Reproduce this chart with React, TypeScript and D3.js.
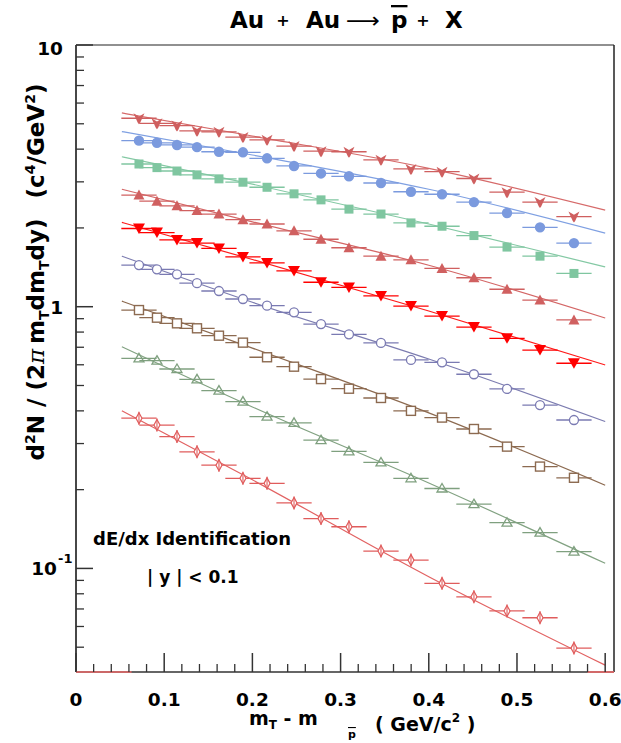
import React from 'react';
import * as d3 from 'd3';

const W = 621;
const H = 743;

// x positions (mT - m, GeV/c^2) of the measured points
const xs = [0.0714, 0.0918, 0.1145, 0.1372, 0.1621, 0.1893, 0.2166, 0.2472, 0.2778, 0.3095, 0.3458, 0.3798, 0.415, 0.4512, 0.4887, 0.5261, 0.5646];

// spectra, top to bottom
const s1 = [5.25, 5.02, 4.92, 4.7, 4.66, 4.45, 4.34, 4.11, 3.93, 3.91, 3.64, 3.36, 3.28, 3.09, 2.74, 2.51, 2.21];
const s2 = [4.31, 4.23, 4.15, 4.07, 3.91, 3.89, 3.69, 3.45, 3.23, 3.15, 2.97, 2.75, 2.69, 2.51, 2.28, 2.01, 1.75];
const s3 = [3.51, 3.4, 3.3, 3.19, 3.08, 2.99, 2.86, 2.7, 2.56, 2.36, 2.26, 2.09, 2.03, 1.87, 1.69, 1.56, 1.34];
const s4 = [2.67, 2.53, 2.43, 2.33, 2.26, 2.15, 2.07, 1.95, 1.81, 1.68, 1.56, 1.51, 1.4, 1.29, 1.166, 1.06, 0.89];
const s5 = [1.99, 1.92, 1.8, 1.75, 1.67, 1.55, 1.47, 1.37, 1.24, 1.185, 1.1, 1.006, 0.921, 0.836, 0.757, 0.683, 0.608];
const s6 = [1.443, 1.39, 1.33, 1.23, 1.148, 1.07, 1.009, 0.952, 0.858, 0.784, 0.727, 0.626, 0.613, 0.552, 0.485, 0.421, 0.369];
const s7 = [0.971, 0.908, 0.864, 0.827, 0.775, 0.729, 0.641, 0.59, 0.529, 0.486, 0.448, 0.4, 0.377, 0.341, 0.292, 0.245, 0.222];
const s8 = [0.635, 0.622, 0.578, 0.528, 0.478, 0.434, 0.38, 0.36, 0.309, 0.28, 0.254, 0.221, 0.202, 0.176, 0.1495, 0.137, 0.116];
const s9 = [0.375, 0.353, 0.319, 0.279, 0.248, 0.221, 0.2114, 0.178, 0.155, 0.1443, 0.1165, 0.1076, 0.0877, 0.0779, 0.0688, 0.0648, 0.0496];

// fitted curves, sampled at fitX
const fitX = [0.052, 0.2, 0.4, 0.6];
const f1 = [5.5, 4.49, 3.38, 2.34];
const f2 = [4.67, 3.8, 2.81, 1.91];
const f3 = [3.74, 2.94, 2.07, 1.42];
const f4 = [2.81, 2.11, 1.44, 0.905];
const f5 = [2.1, 1.515, 0.963, 0.599];
const f6 = [1.56, 1.04, 0.631, 0.364];
const f7 = [1.05, 0.695, 0.393, 0.208];
const f8 = [0.703, 0.414, 0.212, 0.1046];
const f9 = [0.4, 0.218, 0.093, 0.0427];

const xErr = 0.02;

const xTickVals = [0, 0.1, 0.2, 0.3, 0.4, 0.5, 0.6];
const xTickLabels = ['0', '0.1', '0.2', '0.3', '0.4', '0.5', '0.6'];
const yMajor = [0.1, 1, 10];
const redAxisSegs = [[0, 0.063], [0.58, 0.61]];

const series = [
  { vals: s1, fit: f1, color: '#cf5f5f', line: '#d66a6a', shape: 'notch' },
  { vals: s2, fit: f2, color: '#7b9ade', line: '#7fa0e2', shape: 'circleF' },
  { vals: s3, fit: f3, color: '#7fc6a0', line: '#84c9a4', shape: 'squareF' },
  { vals: s4, fit: f4, color: '#d06060', line: '#d46666', shape: 'triUpF' },
  { vals: s5, fit: f5, color: '#ff0000', line: '#ff1a1a', shape: 'triDownF' },
  { vals: s6, fit: f6, color: '#7a7ab2', line: '#7c7cb0', shape: 'circleO' },
  { vals: s7, fit: f7, color: '#8c6a50', line: '#8c6a50', shape: 'squareO' },
  { vals: s8, fit: f8, color: '#7fa07f', line: '#82a282', shape: 'triUpO' },
  { vals: s9, fit: f9, color: '#e05c5c', line: '#e26262', shape: 'diamondO' },
];

function Marker({ shape, color }: { shape: string; color: string }) {
  switch (shape) {
    case 'notch':
      return <path d="M-5.5,-5 L0,-1.8 L5.5,-5 L1.2,4.5 L0,6 L-1.2,4.5 Z" fill={color} />;
    case 'circleF':
      return <circle r={5.2} fill={color} />;
    case 'squareF':
      return <rect x={-4.5} y={-4.5} width={9} height={9} fill={color} />;
    case 'triUpF':
      return <path d="M0,-5.5 L5.5,4.5 L-5.5,4.5 Z" fill={color} />;
    case 'triDownF':
      return <path d="M-6,-5 L6,-5 L0,5.5 Z" fill={color} />;
    case 'circleO':
      return <circle r={4.5} fill="#fff" stroke={color} strokeWidth={1.3} />;
    case 'squareO':
      return <rect x={-4.5} y={-4.5} width={9} height={9} fill="#fff" stroke={color} strokeWidth={1.4} />;
    case 'triUpO':
      return <path d="M0,-5 L5,3.5 L-5,3.5 Z" fill="none" stroke={color} strokeWidth={1.3} />;
    case 'diamondO':
      return (
        <g>
          <path d="M0,-5.5 L3,0 L0,5.5 L-3,0 Z" fill="#fff" stroke={color} strokeWidth={1.2} />
          <line x1={0} x2={0} y1={-6.5} y2={6.5} stroke={color} strokeWidth={1.1} />
        </g>
      );
    default:
      return null;
  }
}

export default function App() {
  const x = d3.scaleLinear().domain([0, 0.61]).range([76, 614]);
  const y = d3.scaleLog().domain([0.0402, 10]).range([672, 45]);
  const [x0, x1] = x.range();
  const [yb, yt] = y.range();

  const xMinor = d3.range(0, 61, 2).map((v) => v / 100).filter((v) => Math.round(v * 100) % 10 !== 0);
  const yMinor: number[] = [];
  [0.01, 0.1, 1].forEach((dec) => {
    for (let k = 2; k <= 9; k++) {
      const v = dec * k;
      if (v >= 0.0402 && v <= 10) yMinor.push(v);
    }
  });

  const fitLine = d3
    .line<number>()
    .x((_, i) => x(fitX[i]))
    .y((d) => y(d))
    .curve(d3.curveMonotoneX);

  const font = "'DejaVu Sans', Verdana, sans-serif";

  return (
    <svg width={W} height={H} style={{ position: 'absolute', left: 0, top: 0, background: '#fff' }} fontFamily={font}>
      <rect width={W} height={H} fill="#fff" />
      {/* title */}
      <g fontWeight="bold" fill="#000">
        <text x={230} y={28} fontSize={23}>Au</text>
        <text x={283} y={26} fontSize={16} textAnchor="middle">+</text>
        <text x={306} y={28} fontSize={23}>Au</text>
        <text x={346} y={28} fontSize={22} fontWeight="normal" textLength={34} lengthAdjust="spacingAndGlyphs">⟶</text>
        <text x={391} y={28} fontSize={23} textDecoration="overline">p</text>
        <text x={423} y={26} fontSize={16} textAnchor="middle">+</text>
        <text x={445} y={28} fontSize={23}>X</text>
      </g>

      {/* fit curves */}
      <g fill="none">
        {series.map((s, i) => (
          <path key={'f' + i} d={fitLine(s.fit) || ''} stroke={s.line} strokeWidth={1.2} />
        ))}
      </g>

      {/* error bars */}
      <g>
        {series.map((s, i) =>
          s.vals.map((v, j) => (
            <line
              key={'e' + i + '-' + j}
              x1={x(xs[j] - xErr)}
              x2={x(xs[j] + xErr)}
              y1={y(v)}
              y2={y(v)}
              stroke={s.color}
              strokeWidth={1.3}
            />
          ))
        )}
      </g>

      {/* markers */}
      <g>
        {series.map((s, i) =>
          s.vals.map((v, j) => (
            <g key={'m' + i + '-' + j} transform={`translate(${x(xs[j])},${y(v)})`}>
              <Marker shape={s.shape} color={s.color} />
            </g>
          ))
        )}
      </g>

      {/* frame */}
      <line x1={x0} x2={x1} y1={yt} y2={yt} stroke="#222" strokeWidth={1.2} />
      <line x1={x1} x2={x1} y1={yt} y2={yb} stroke="#222" strokeWidth={1.5} />
      <line x1={x0} x2={x1} y1={yb} y2={yb} stroke="#333" strokeWidth={1.6} />
      <line x1={x0} x2={x0} y1={yt} y2={yb} stroke="#333" strokeWidth={1.8} />
      {redAxisSegs.map((seg, i) => (
        <line key={'r' + i} x1={x(seg[0])} x2={x(seg[1])} y1={yb} y2={yb} stroke="#ee6a6a" strokeWidth={1.6} />
      ))}

      {/* x ticks */}
      {xTickVals.map((v) => (
        <line key={'xt' + v} x1={x(v)} x2={x(v)} y1={yb} y2={yb - 19} stroke="#333" strokeWidth={1.5} />
      ))}
      {xMinor.map((v) => (
        <line key={'xm' + v} x1={x(v)} x2={x(v)} y1={yb} y2={yb - 8} stroke="#333" strokeWidth={1.3} />
      ))}
      {xTickVals.map((v, i) => (
        <text key={'xl' + v} x={x(v)} y={706} textAnchor="middle" fontSize={18.5} fontWeight="bold" fill="#000">
          {xTickLabels[i]}
        </text>
      ))}

      {/* y ticks */}
      {yMajor.map((v) => (
        <line key={'yt' + v} x1={x0} x2={x0 + 17} y1={y(v)} y2={y(v)} stroke="#333" strokeWidth={1.5} />
      ))}
      {yMinor.map((v) => (
        <line key={'ym' + v} x1={x0} x2={x0 + 8} y1={y(v)} y2={y(v)} stroke="#333" strokeWidth={1.3} />
      ))}
      <text x={63} y={y(10) + 10} textAnchor="end" fontSize={18.5} fontWeight="bold">10</text>
      <text x={63} y={y(1) + 7} textAnchor="end" fontSize={18.5} fontWeight="bold">1</text>
      <text x={57} y={y(0.1) + 7} textAnchor="end" fontSize={18.5} fontWeight="bold">10</text>
      <text x={58} y={y(0.1) - 5} textAnchor="start" fontSize={13} fontWeight="bold">-1</text>

      {/* y label */}
      <text transform="translate(44,272) rotate(-90)" textAnchor="middle" fontSize={23} fontWeight="bold" fill="#000">
        <tspan>d</tspan>
        <tspan fontSize={14} dy={-9}>2</tspan>
        <tspan dy={9}>N / (2</tspan>
        <tspan fontFamily="'DejaVu Serif'" fontWeight="normal" fontStyle="italic">π</tspan>
        <tspan dx={5}>m</tspan>
        <tspan fontSize={14} dy={5}>T</tspan>
        <tspan dy={-5}>dm</tspan>
        <tspan fontSize={14} dy={5}>T</tspan>
        <tspan dy={-5}>dy)</tspan>
        <tspan dx={20}>(c</tspan>
        <tspan fontSize={14} dy={-9}>4</tspan>
        <tspan dy={9}>/GeV</tspan>
        <tspan fontSize={14} dy={-9}>2</tspan>
        <tspan dy={9}>)</tspan>
      </text>

      {/* x label */}
      <text x={249} y={725} fontSize={19} fontWeight="bold" fill="#000">
        <tspan>m</tspan>
        <tspan fontSize={12} dy={4}>T</tspan>
        <tspan dy={-4}> - m</tspan>
      </text>
      <text x={348} y={738} fontSize={11} fontWeight="bold" fill="#000" textDecoration="overline">p</text>
      <text x={375} y={731} fontSize={19} fontWeight="bold" fill="#000">
        <tspan>( GeV/c</tspan>
        <tspan fontSize={12} dy={-9}>2</tspan>
        <tspan dy={9}> )</tspan>
      </text>

      {/* annotations */}
      <text x={93} y={545} fontSize={18} fontWeight="bold" fill="#000">dE/dx Identification</text>
      <text x={147} y={583} fontSize={17} fontWeight="bold" fill="#000">| y | &lt; 0.1</text>
    </svg>
  );
}
